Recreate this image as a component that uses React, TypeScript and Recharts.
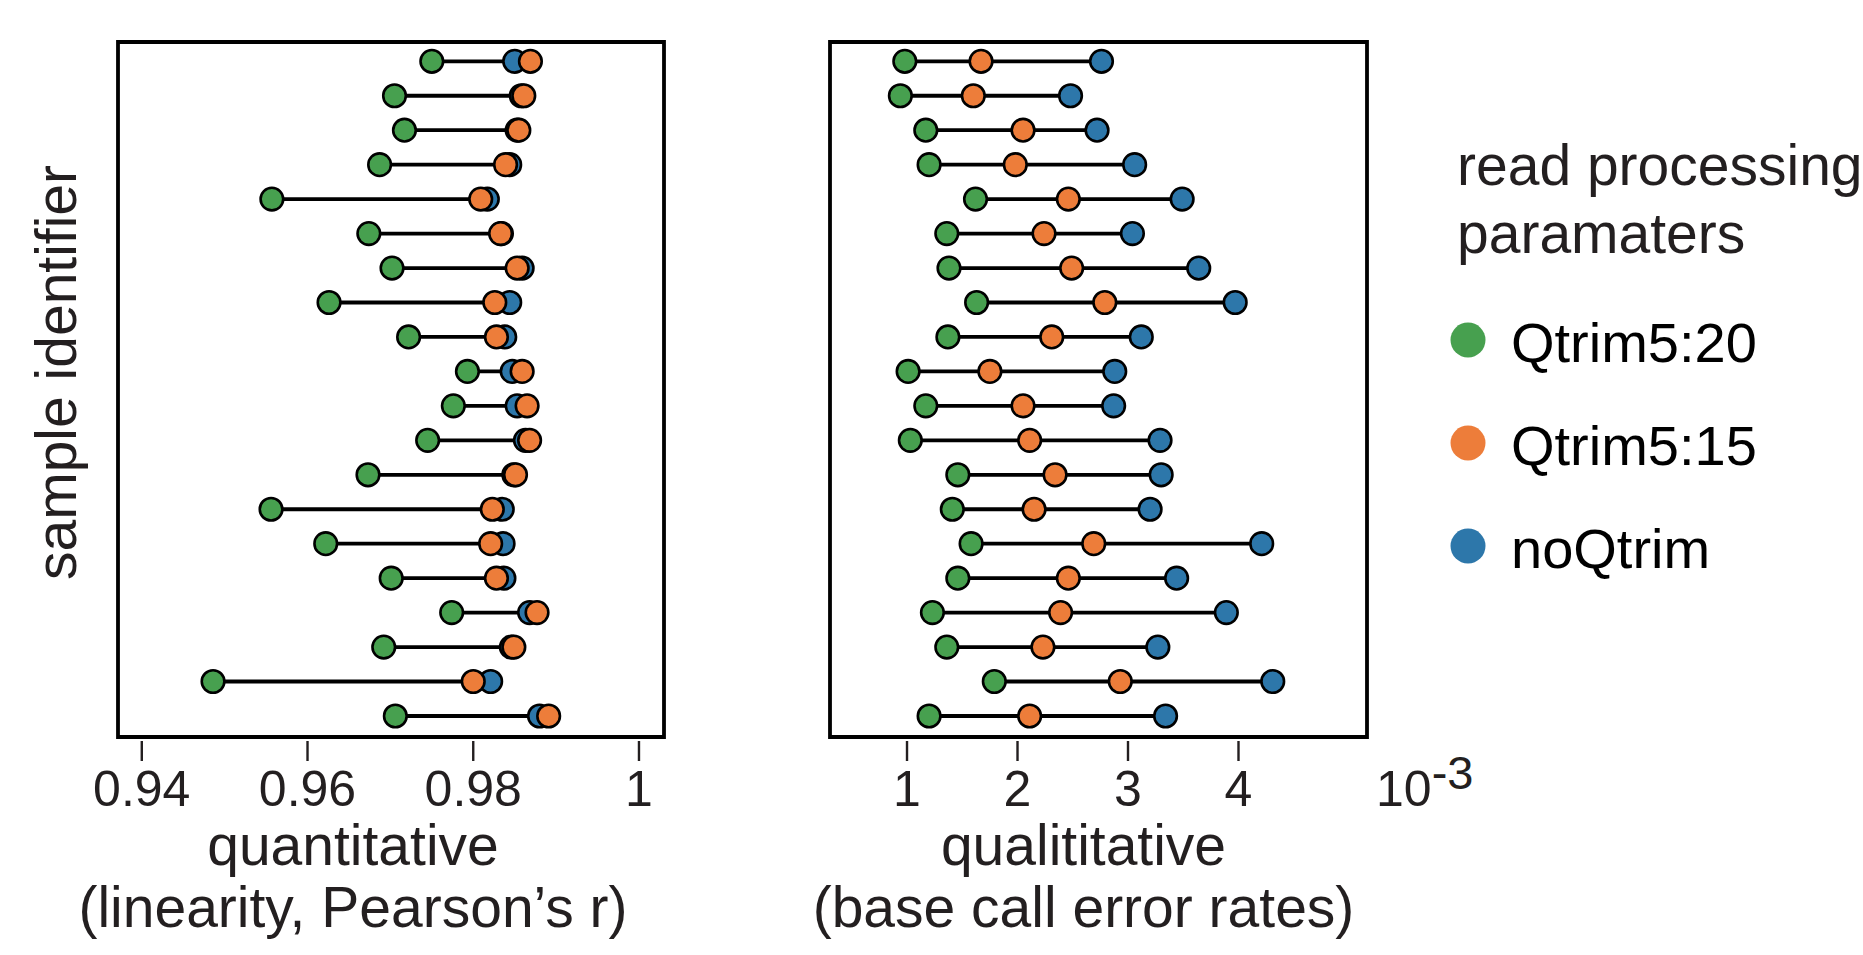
import React from 'react';
import { ScatterChart, Scatter, XAxis, YAxis, ReferenceArea, Legend } from 'recharts';

// ---- data ----
const rowIds = [1, 2, 3, 4, 5, 6, 7, 8, 9, 10, 11, 12, 13, 14, 15, 16, 17, 18, 19, 20];

const seriesNames = ['Qtrim5:20', 'Qtrim5:15', 'noQtrim'];
const seriesColors = ['#47a04f', '#ed7d3a', '#2d77aa'];

// quantitative (linearity, Pearson's r)
const quantQ20 = [0.9750, 0.9705, 0.9717, 0.9687, 0.9557, 0.9674, 0.9702, 0.9626, 0.9722, 0.9793, 0.9776, 0.9745, 0.9673, 0.9556, 0.9622, 0.9701, 0.9774, 0.9692, 0.9486, 0.9706];
const quantQ15 = [0.9869, 0.9861, 0.9855, 0.9839, 0.9809, 0.9833, 0.9853, 0.9826, 0.9828, 0.9859, 0.9865, 0.9868, 0.9851, 0.9823, 0.9821, 0.9828, 0.9877, 0.9849, 0.9800, 0.9891];
const quantNo = [0.9850, 0.9858, 0.9853, 0.9844, 0.9817, 0.9834, 0.9859, 0.9844, 0.9838, 0.9847, 0.9853, 0.9863, 0.9849, 0.9835, 0.9836, 0.9837, 0.9868, 0.9846, 0.9821, 0.9880];

// qualitative (base call error rates, x 10^-3)
const qualQ20 = [0.98, 0.94, 1.17, 1.20, 1.62, 1.36, 1.38, 1.63, 1.37, 1.01, 1.17, 1.03, 1.46, 1.41, 1.58, 1.46, 1.23, 1.36, 1.79, 1.20];
const qualQ15 = [1.67, 1.60, 2.05, 1.98, 2.46, 2.24, 2.49, 2.79, 2.31, 1.75, 2.05, 2.11, 2.34, 2.15, 2.69, 2.46, 2.39, 2.23, 2.93, 2.11];
const qualNo = [2.76, 2.48, 2.72, 3.06, 3.49, 3.04, 3.64, 3.97, 3.12, 2.88, 2.87, 3.29, 3.30, 3.20, 4.21, 3.44, 3.89, 3.27, 4.31, 3.34];

const quantTicks = [0.94, 0.96, 0.98, 1];
const qualTicks = [1, 2, 3, 4];
const quantTickLabels = ['0.94', '0.96', '0.98', '1'];
const qualTickLabels = ['1', '2', '3', '4'];

const quantDomain = [0.93713, 1.00302];
const qualDomain = [0.303, 5.163];
const rowDomain = [0.44, 20.61];

const FONT = '"Liberation Sans", Arial, Helvetica, sans-serif';
const TEXT = '#231f20';

// ---- helpers ----
const toPoints = (vals: number[]) => rowIds.map((r, i) => ({ x: vals[i], y: r }));
const toSegments = (a: number[], b: number[], c: number[]) =>
  rowIds.map((r, i) => {
    const lo = Math.min(a[i], b[i], c[i]);
    const hi = Math.max(a[i], b[i], c[i]);
    return [{ x: lo, y: r }, { x: hi, y: r }];
  });

const makeDot = (color: string) => (props: any) => {
  if (props.cx == null || props.cy == null) return <g />;
  return <circle cx={props.cx} cy={props.cy} r={11.3} fill={color} stroke="#000" strokeWidth={2.6} />;
};
const noDot = () => <g />;

const makeTick = (values: number[], labels: string[]) => (props: any) => {
  const { x, y, payload } = props;
  const idx = values.indexOf(payload.value);
  const label = idx >= 0 ? labels[idx] : String(payload.value);
  return (
    <g>
      <line x1={x} x2={x} y1={y + 4} y2={y + 24} stroke={TEXT} strokeWidth={2.4} />
      <text x={x} y={y + 69} textAnchor="middle" fontSize={50} fontFamily={FONT} fill={TEXT}>
        {label}
      </text>
    </g>
  );
};

const LegendBox = () => (
  <svg width={420} height={500} style={{ overflow: 'visible', display: 'block' }}>
    <text x={7} y={75} fontSize={57} fontFamily={FONT} fill={TEXT}>read processing</text>
    <text x={7} y={143} fontSize={57} fontFamily={FONT} fill={TEXT}>paramaters</text>
    {seriesNames.map((n, i) => (
      <g key={n}>
        <circle cx={18} cy={230 + i * 103} r={17.5} fill={seriesColors[i]} />
        <text x={61} y={252 + i * 103} fontSize={56} fontFamily={FONT} fill="#000">{n}</text>
      </g>
    ))}
  </svg>
);

const Panel = ({ q20, q15, qno, domain, ticks, tickLabels, width, margin, title1, title2, titleShift, showYLabel, exponent, legend }: any) => {
  const segs = toSegments(q20, q15, qno);
  return (
    <ScatterChart width={width} height={955} margin={margin}>
      <XAxis
        type="number"
        dataKey="x"
        domain={domain}
        allowDataOverflow
        ticks={ticks}
        interval={0}
        axisLine={false}
        tickLine={false}
        tickSize={0}
        tickMargin={0}
        height={60}
        tick={makeTick(ticks, tickLabels)}
        label={(p: any) => {
          const vb = p.viewBox || {};
          const cx = vb.x + vb.width / 2 + titleShift;
          return (
            <g>
              <text x={cx} y={vb.y + 128} textAnchor="middle" fontSize={57} fontFamily={FONT} fill={TEXT}>{title1}</text>
              <text x={cx} y={vb.y + 190} textAnchor="middle" fontSize={57} fontFamily={FONT} fill={TEXT}>{title2}</text>
              {exponent ? (
                <text x={vb.x + vb.width + 9} y={vb.y + 69} fontSize={50} fontFamily={FONT} fill={TEXT}>
                  10<tspan fontSize={47} dy={-17}>-3</tspan>
                </text>
              ) : null}
            </g>
          );
        }}
      />
      {showYLabel ? (
        <YAxis
          type="number"
          dataKey="y"
          domain={rowDomain}
          reversed
          allowDataOverflow
          width={100}
          tick={false}
          tickLine={false}
          axisLine={false}
          label={(p: any) => {
            const vb = p.viewBox || {};
            const cx = vb.x + 58;
            const cy = vb.y + vb.height / 2 - 17;
            return (
              <text x={cx} y={cy} transform={`rotate(-90 ${cx} ${cy})`} textAnchor="middle" fontSize={57} fontFamily={FONT} fill={TEXT}>
                sample identifier
              </text>
            );
          }}
        />
      ) : (
        <YAxis type="number" dataKey="y" domain={rowDomain} reversed allowDataOverflow hide width={0} />
      )}
      <ReferenceArea x1={domain[0]} x2={domain[1]} y1={rowDomain[0]} y2={rowDomain[1]} fill="none" stroke="#000" strokeWidth={3.8} ifOverflow="visible" />
      {segs.map((s, i) => (
        <Scatter key={'seg' + i} data={s} line={{ stroke: '#000', strokeWidth: 3.8 }} shape={noDot} legendType="none" isAnimationActive={false} />
      ))}
      <Scatter name={seriesNames[0]} data={toPoints(q20)} fill={seriesColors[0]} shape={makeDot(seriesColors[0])} isAnimationActive={false} />
      <Scatter name={seriesNames[2]} data={toPoints(qno)} fill={seriesColors[2]} shape={makeDot(seriesColors[2])} isAnimationActive={false} />
      <Scatter name={seriesNames[1]} data={toPoints(q15)} fill={seriesColors[1]} shape={makeDot(seriesColors[1])} isAnimationActive={false} />
      {legend ? (
        <Legend
          verticalAlign="middle"
          align="center"
          layout="vertical"
          wrapperStyle={{ position: 'absolute', left: 690, top: 110, width: 420, height: 500, right: 'auto', bottom: 'auto', margin: 0 }}
          content={() => <LegendBox />}
        />
      ) : null}
    </ScatterChart>
  );
};

export default function App() {
  return (
    <div style={{ position: 'absolute', left: 0, top: 0, width: 1863, height: 955, background: '#fff', overflow: 'hidden' }}>
      <div style={{ position: 'absolute', left: 0, top: 0 }}>
        <Panel
          q20={quantQ20}
          q15={quantQ15}
          qno={quantNo}
          domain={quantDomain}
          ticks={quantTicks}
          tickLabels={quantTickLabels}
          width={720}
          margin={{ top: 42, left: 18, right: 56, bottom: 158 }}
          title1="quantitative"
          title2="(linearity, Pearson’s r)"
          titleShift={-38}
          showYLabel
        />
      </div>
      <div style={{ position: 'absolute', left: 760, top: 0 }}>
        <Panel
          q20={qualQ20}
          q15={qualQ15}
          qno={qualNo}
          domain={qualDomain}
          ticks={qualTicks}
          tickLabels={qualTickLabels}
          width={1103}
          margin={{ top: 42, left: 70, right: 496, bottom: 158 }}
          title1="qualititative"
          title2="(base call error rates)"
          titleShift={-15}
          exponent
          legend
        />
      </div>
    </div>
  );
}
